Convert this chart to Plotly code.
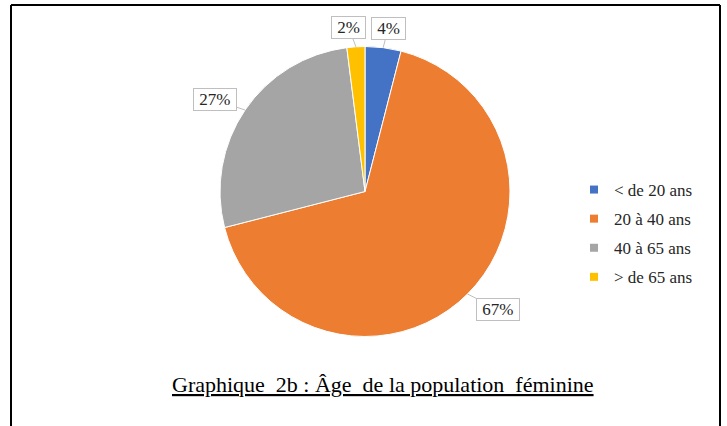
import math
import plotly.graph_objects as go

categories = ["< de 20 ans", "20 à 40 ans", "40 à 65 ans", "> de 65 ans"]
values = [4, 67, 27, 2]
colors = ["#4472C4", "#ED7D31", "#A5A5A5", "#FFC000"]
title_text = "Graphique\u00a0\u00a02b : Âge\u00a0\u00a0de la population\u00a0\u00a0féminine"

W, H = 727, 426
# pie geometry in pixels (layout only)
cx, cy, R = 365, 191.5, 145
# label box offsets (pixels) from slice edge midpoint
label_offsets = [(5, -19), (30, 15), (-30, -10), (-7, -19)]

FONT = "Liberation Serif, Times New Roman, serif"

fig = go.Figure()
fig.add_trace(go.Pie(
    labels=categories,
    values=values,
    sort=False,
    direction="clockwise",
    rotation=0,
    marker=dict(colors=colors, line=dict(color="white", width=1)),
    textinfo="none",
    hoverinfo="label+percent",
    showlegend=False,
    domain=dict(x=[(cx - R) / W, (cx + R) / W], y=[1 - (cy + R) / H, 1 - (cy - R) / H]),
))

# legend entries (small square swatches like the original)
for i, (name, col) in enumerate(zip(categories, colors)):
    fig.add_trace(go.Scatter(
        x=[None], y=[None], mode="markers", name=name,
        marker=dict(symbol="square", size=8, color=col),
        legendgroup=f"g{i}", showlegend=True, hoverinfo="skip",
    ))

total = sum(values)
annotations = []
cum = 0
for v, (ox, oy) in zip(values, label_offsets):
    mid = (cum + v / 2) / total * 2 * math.pi
    cum += v
    px = cx + R * math.sin(mid)
    py = cy - R * math.cos(mid)
    annotations.append(dict(
        x=px / W, y=1 - py / H, xref="paper", yref="paper",
        text=f"\u00a0{round(v / total * 100)}%\u00a0",
        showarrow=True, arrowhead=0, arrowwidth=1, arrowcolor="#BFBFBF",
        ax=ox, ay=oy, standoff=0,
        font=dict(family=FONT, size=17, color="#262626"),
        bgcolor="white", bordercolor="#BFBFBF", borderwidth=1, borderpad=1,
    ))

annotations.append(dict(
    x=383 / W, y=1 - 384 / H, xref="paper", yref="paper",
    text=f"<u>{title_text}</u>", showarrow=False,
    font=dict(family=FONT, size=22, color="black"),
    xanchor="center", yanchor="middle",
))

bl, bt, br = 11 / W, 1 - 5 / H, 720 / W
shapes = [
    dict(type="line", xref="paper", yref="paper", x0=bl, x1=bl, y0=0, y1=bt,
         line=dict(color="black", width=2)),
    dict(type="line", xref="paper", yref="paper", x0=bl, x1=br, y0=bt, y1=bt,
         line=dict(color="black", width=2)),
    dict(type="line", xref="paper", yref="paper", x0=br, x1=br, y0=0, y1=bt,
         line=dict(color="black", width=2)),
]

fig.update_layout(
    width=W, height=H,
    margin=dict(l=0, r=0, t=0, b=0),
    paper_bgcolor="white", plot_bgcolor="white",
    xaxis=dict(visible=False, domain=[0, 0.01]),
    yaxis=dict(visible=False, domain=[0, 0.01]),
    showlegend=True,
    legend=dict(
        x=574 / W, y=1 - 233.5 / H, xanchor="left", yanchor="middle",
        font=dict(family=FONT, size=17, color="#262626"),
        bgcolor="rgba(0,0,0,0)",
        tracegroupgap=4,
        itemclick=False, itemdoubleclick=False,
    ),
    annotations=annotations,
    shapes=shapes,
)

fig.write_html(
    "out.html",
    config={"displayModeBar": False},
    post_script="document.body.style.margin='0';document.body.style.overflow='hidden';",
)
